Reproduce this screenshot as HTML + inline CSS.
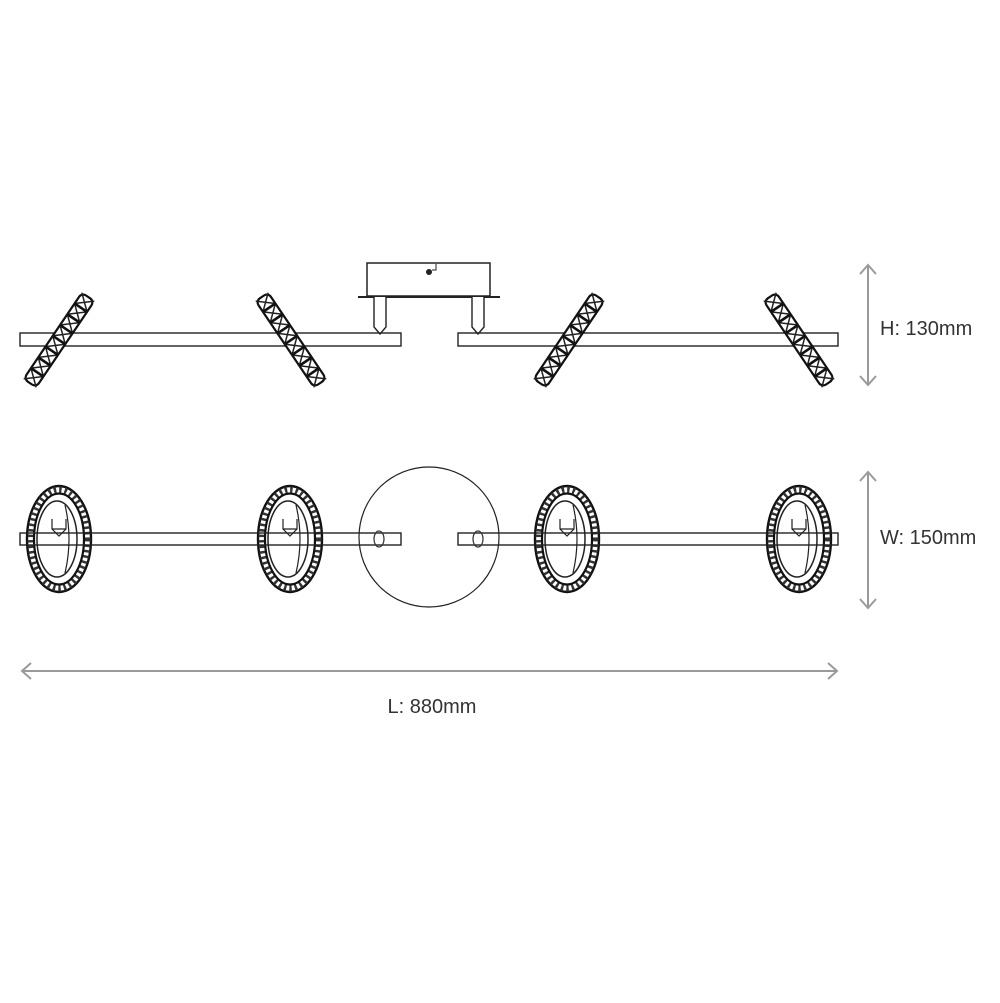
<!DOCTYPE html>
<html><head><style>html,body{margin:0;padding:0;background:#fff}</style></head>
<body>
<svg width="1000" height="998" viewBox="0 0 1000 998" xmlns="http://www.w3.org/2000/svg">
<defs>
<g id="lamp">
  <rect x="-52" y="-7.5" width="104" height="15" rx="5" fill="#fff" stroke="#111" stroke-width="2.2"/>
  <path d="M-52,-7.5 L-39,7.5 M-39,-7.5 L-52,7.5 M-39,-7.5 L-26,7.5 M-26,-7.5 L-39,7.5 M-26,-7.5 L-13,7.5 M-13,-7.5 L-26,7.5 M-13,-7.5 L0,7.5 M0,-7.5 L-13,7.5 M0,-7.5 L13,7.5 M13,-7.5 L0,7.5 M13,-7.5 L26,7.5 M26,-7.5 L13,7.5 M26,-7.5 L39,7.5 M39,-7.5 L26,7.5 M39,-7.5 L52,7.5 M52,-7.5 L39,7.5" stroke="#222" stroke-width="1.5"/>
  <path d="M-39,-7.5V7.5 M-26,-7.5V7.5 M-13,-7.5V7.5 M0,-7.5V7.5 M13,-7.5V7.5 M26,-7.5V7.5 M39,-7.5V7.5" stroke="#111" stroke-width="2.6"/>
</g>
<g id="ring">
  <ellipse cx="0" cy="0" rx="32" ry="53" fill="#fff" stroke="#111" stroke-width="2.4"/>
  <ellipse cx="0" cy="0" rx="28.5" ry="49.5" fill="none" stroke="#333" stroke-width="6" stroke-dasharray="2.5 3"/>
  <ellipse cx="0" cy="0" rx="25" ry="45.5" fill="#fff" stroke="#111" stroke-width="2.2"/>
  <ellipse cx="-2" cy="0" rx="20" ry="38" fill="none" stroke="#222" stroke-width="1.5"/>
  <path d="M6,-34 Q14,0 6,34" fill="none" stroke="#222" stroke-width="1.2"/>
  <path d="M-7,-20 V-10 L0,-3 L7,-10 V-20 M-7,-10 H7" fill="none" stroke="#222" stroke-width="1.2"/>
</g>
</defs>

<!-- TOP VIEW -->
<rect x="367" y="263" width="123" height="33" fill="#fff" stroke="#222" stroke-width="1.5"/>
<circle cx="429" cy="272" r="3" fill="#222"/>
<path d="M432,270 H436 V264" fill="none" stroke="#222" stroke-width="1"/>
<line x1="358" y1="297" x2="500" y2="297" stroke="#222" stroke-width="2"/>
<path d="M374,297 V327 L380,334 L386,327 V297" fill="#fff" stroke="#222" stroke-width="1.4"/>
<path d="M472,297 V327 L478,334 L484,327 V297" fill="#fff" stroke="#222" stroke-width="1.4"/>
<rect x="20" y="333" width="381" height="13" fill="none" stroke="#222" stroke-width="1.4"/>
<rect x="458" y="333" width="380" height="13" fill="none" stroke="#222" stroke-width="1.4"/>
<use href="#lamp" transform="translate(59,340) rotate(-56)"/>
<use href="#lamp" transform="translate(291,340) rotate(56)"/>
<use href="#lamp" transform="translate(569,340) rotate(-56)"/>
<use href="#lamp" transform="translate(799,340) rotate(56)"/>

<!-- BOTTOM VIEW -->
<circle cx="429" cy="537" r="70" fill="#fff" stroke="#222" stroke-width="1.2"/>
<use href="#ring" transform="translate(59,539)"/>
<use href="#ring" transform="translate(290,539)"/>
<use href="#ring" transform="translate(567,539)"/>
<use href="#ring" transform="translate(799,539)"/>
<rect x="20" y="533" width="381" height="12" fill="none" stroke="#222" stroke-width="1.4"/>
<rect x="458" y="533" width="380" height="12" fill="none" stroke="#222" stroke-width="1.4"/>
<ellipse cx="379" cy="539" rx="5" ry="8" fill="none" stroke="#333" stroke-width="1.2"/>
<ellipse cx="478" cy="539" rx="5" ry="8" fill="none" stroke="#333" stroke-width="1.2"/>

<!-- DIMENSIONS -->
<g stroke="#9a9a9a" stroke-width="2" fill="none">
  <path d="M868,265 V385 M860,274 L868,265 L876,274 M860,376 L868,385 L876,376"/>
  <path d="M868,472 V608 M860,481 L868,472 L876,481 M860,599 L868,608 L876,599"/>
  <path d="M22,671 H837 M31,663 L22,671 L31,679 M828,663 L837,671 L828,679"/>
</g>
<g font-family="Liberation Sans, sans-serif" font-size="20" fill="#333">
  <text x="880" y="335">H: 130mm</text>
  <text x="880" y="544">W: 150mm</text>
  <text x="432" y="713" text-anchor="middle">L: 880mm</text>
</g>
</svg>
</body></html>
